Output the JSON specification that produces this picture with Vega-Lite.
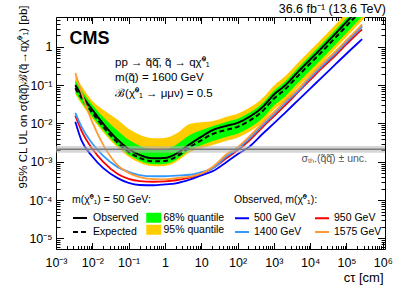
{
  "$schema": "https://vega.github.io/schema/vega-lite/v6.json",
  "width": 329,
  "height": 232,
  "autosize": "none",
  "padding": {"left": 56, "top": 17, "right": 17, "bottom": 40},
  "background": "white",
  "title": {"text": "36.6 fb⁻¹ (13.6 TeV)", "anchor": "end", "frame": "group", "fontSize": 12.5, "fontWeight": "normal", "color": "black", "offset": -10, "dx": 1},
  "config": {
    "font": "Liberation Sans",
    "view": {"stroke": "black", "strokeWidth": 1},
    "axis": {"domain": false, "grid": false, "tickColor": "black", "tickWidth": 1, "labelColor": "black", "titleColor": "black", "labelOverlap": false, "labelFlush": false, "labelBound": false}
  },
  "datasets": {
    "limits": [
      {"ctau": 0.0034, "obs": 0.1, "exp": 0.0835, "g_lo": 0.0656, "g_hi": 0.135, "o_lo": 0.0582, "o_hi": 0.172},
      {"ctau": 0.005, "obs": 0.0564, "exp": 0.0471, "g_lo": 0.037, "g_hi": 0.0763, "o_lo": 0.0328, "o_hi": 0.097},
      {"ctau": 0.01, "obs": 0.0228, "exp": 0.019, "g_lo": 0.01494, "g_hi": 0.0308, "o_lo": 0.01324, "o_hi": 0.0391},
      {"ctau": 0.02, "obs": 0.0098, "exp": 0.00818, "g_lo": 0.00663, "g_hi": 0.01472, "o_lo": 0.00589, "o_hi": 0.0229},
      {"ctau": 0.05, "obs": 0.00374, "exp": 0.00312, "g_lo": 0.00261, "g_hi": 0.00643, "o_lo": 0.00231, "o_hi": 0.01248},
      {"ctau": 0.1, "obs": 0.00218, "exp": 0.00182, "g_lo": 0.00152, "g_hi": 0.00375, "o_lo": 0.00135, "o_hi": 0.00728},
      {"ctau": 0.2, "obs": 0.00152, "exp": 0.00127, "g_lo": 0.00106, "g_hi": 0.00262, "o_lo": 0.00094, "o_hi": 0.00508},
      {"ctau": 0.5, "obs": 0.00123, "exp": 0.00103, "g_lo": 0.00086, "g_hi": 0.00212, "o_lo": 0.000762, "o_hi": 0.00412},
      {"ctau": 1, "obs": 0.00126, "exp": 0.00105, "g_lo": 0.000877, "g_hi": 0.00216, "o_lo": 0.000777, "o_hi": 0.0042},
      {"ctau": 2, "obs": 0.00161, "exp": 0.00134, "g_lo": 0.00112, "g_hi": 0.00276, "o_lo": 0.000992, "o_hi": 0.00536},
      {"ctau": 5, "obs": 0.00294, "exp": 0.00245, "g_lo": 0.00205, "g_hi": 0.00505, "o_lo": 0.00181, "o_hi": 0.0098},
      {"ctau": 10, "obs": 0.00449, "exp": 0.00364, "g_lo": 0.00269, "g_hi": 0.00666, "o_lo": 0.00225, "o_hi": 0.01077},
      {"ctau": 20, "obs": 0.00664, "exp": 0.00522, "g_lo": 0.00342, "g_hi": 0.00846, "o_lo": 0.00269, "o_hi": 0.01143},
      {"ctau": 50, "obs": 0.0087, "exp": 0.00684, "g_lo": 0.00449, "g_hi": 0.01108, "o_lo": 0.00352, "o_hi": 0.01498},
      {"ctau": 100, "obs": 0.0104, "exp": 0.00817, "g_lo": 0.00536, "g_hi": 0.01324, "o_lo": 0.00421, "o_hi": 0.01789},
      {"ctau": 200, "obs": 0.0145, "exp": 0.0114, "g_lo": 0.00748, "g_hi": 0.01847, "o_lo": 0.00587, "o_hi": 0.02497},
      {"ctau": 500, "obs": 0.0274, "exp": 0.02154, "g_lo": 0.01413, "g_hi": 0.0349, "o_lo": 0.01109, "o_hi": 0.0472},
      {"ctau": 1000, "obs": 0.0564, "exp": 0.0443, "g_lo": 0.02906, "g_hi": 0.0718, "o_lo": 0.02281, "o_hi": 0.097},
      {"ctau": 2000, "obs": 0.097, "exp": 0.0762, "g_lo": 0.05, "g_hi": 0.1234, "o_lo": 0.03924, "o_hi": 0.1669},
      {"ctau": 5000, "obs": 0.24, "exp": 0.1886, "g_lo": 0.1237, "g_hi": 0.3055, "o_lo": 0.0971, "o_hi": 0.413},
      {"ctau": 10000, "obs": 0.466, "exp": 0.3663, "g_lo": 0.2403, "g_hi": 0.5934, "o_lo": 0.1886, "o_hi": 0.802},
      {"ctau": 20000, "obs": 0.903, "exp": 0.7098, "g_lo": 0.4656, "g_hi": 1.15, "o_lo": 0.3655, "o_hi": 1.554},
      {"ctau": 50000, "obs": 2.23, "exp": 1.753, "g_lo": 1.15, "g_hi": 2.84, "o_lo": 0.903, "o_hi": 3.84},
      {"ctau": 100000, "obs": 4.46, "exp": 3.506, "g_lo": 2.3, "g_hi": 5.68, "o_lo": 1.806, "o_hi": 7.68},
      {"ctau": 200000, "obs": 8.9, "exp": 7.0, "g_lo": 4.59, "g_hi": 11.34, "o_lo": 3.6, "o_hi": 15.3},
      {"ctau": 400000, "obs": 17.8, "exp": 14.0, "g_lo": 9.18, "g_hi": 22.7, "o_lo": 7.2, "o_hi": 30.7}
    ],
    "masses": [
      {"ctau": 0.0034, "mass": "500 GeV", "ul": 0.0111},
      {"ctau": 0.005, "mass": "500 GeV", "ul": 0.00366},
      {"ctau": 0.01, "mass": "500 GeV", "ul": 0.00137},
      {"ctau": 0.02, "mass": "500 GeV", "ul": 0.00068},
      {"ctau": 0.05, "mass": "500 GeV", "ul": 0.000374},
      {"ctau": 0.1, "mass": "500 GeV", "ul": 0.00028},
      {"ctau": 0.2, "mass": "500 GeV", "ul": 0.000248},
      {"ctau": 0.5, "mass": "500 GeV", "ul": 0.000244},
      {"ctau": 1, "mass": "500 GeV", "ul": 0.000258},
      {"ctau": 2, "mass": "500 GeV", "ul": 0.000275},
      {"ctau": 5, "mass": "500 GeV", "ul": 0.000348},
      {"ctau": 10, "mass": "500 GeV", "ul": 0.000441},
      {"ctau": 20, "mass": "500 GeV", "ul": 0.000561},
      {"ctau": 50, "mass": "500 GeV", "ul": 0.000994},
      {"ctau": 100, "mass": "500 GeV", "ul": 0.00158},
      {"ctau": 200, "mass": "500 GeV", "ul": 0.00238},
      {"ctau": 500, "mass": "500 GeV", "ul": 0.00547},
      {"ctau": 1000, "mass": "500 GeV", "ul": 0.01},
      {"ctau": 2000, "mass": "500 GeV", "ul": 0.0187},
      {"ctau": 5000, "mass": "500 GeV", "ul": 0.0433},
      {"ctau": 10000, "mass": "500 GeV", "ul": 0.081},
      {"ctau": 20000, "mass": "500 GeV", "ul": 0.153},
      {"ctau": 50000, "mass": "500 GeV", "ul": 0.352},
      {"ctau": 100000, "mass": "500 GeV", "ul": 0.66},
      {"ctau": 200000, "mass": "500 GeV", "ul": 1.22},
      {"ctau": 270000, "mass": "500 GeV", "ul": 1.58},
      {"ctau": 0.0034, "mass": "950 GeV", "ul": 0.0159},
      {"ctau": 0.005, "mass": "950 GeV", "ul": 0.00652},
      {"ctau": 0.01, "mass": "950 GeV", "ul": 0.00218},
      {"ctau": 0.02, "mass": "950 GeV", "ul": 0.000988},
      {"ctau": 0.05, "mass": "950 GeV", "ul": 0.00048},
      {"ctau": 0.1, "mass": "950 GeV", "ul": 0.000359},
      {"ctau": 0.2, "mass": "950 GeV", "ul": 0.000314},
      {"ctau": 0.5, "mass": "950 GeV", "ul": 0.000301},
      {"ctau": 1, "mass": "950 GeV", "ul": 0.00031},
      {"ctau": 2, "mass": "950 GeV", "ul": 0.00033},
      {"ctau": 5, "mass": "950 GeV", "ul": 0.000393},
      {"ctau": 10, "mass": "950 GeV", "ul": 0.000497},
      {"ctau": 20, "mass": "950 GeV", "ul": 0.000672},
      {"ctau": 50, "mass": "950 GeV", "ul": 0.00125},
      {"ctau": 100, "mass": "950 GeV", "ul": 0.002},
      {"ctau": 200, "mass": "950 GeV", "ul": 0.00342},
      {"ctau": 500, "mass": "950 GeV", "ul": 0.0082},
      {"ctau": 1000, "mass": "950 GeV", "ul": 0.0154},
      {"ctau": 2000, "mass": "950 GeV", "ul": 0.0292},
      {"ctau": 5000, "mass": "950 GeV", "ul": 0.0705},
      {"ctau": 10000, "mass": "950 GeV", "ul": 0.137},
      {"ctau": 20000, "mass": "950 GeV", "ul": 0.266},
      {"ctau": 50000, "mass": "950 GeV", "ul": 0.603},
      {"ctau": 100000, "mass": "950 GeV", "ul": 1.17},
      {"ctau": 200000, "mass": "950 GeV", "ul": 2.23},
      {"ctau": 270000, "mass": "950 GeV", "ul": 2.85},
      {"ctau": 0.0034, "mass": "1400 GeV", "ul": 0.019},
      {"ctau": 0.005, "mass": "1400 GeV", "ul": 0.0084},
      {"ctau": 0.01, "mass": "1400 GeV", "ul": 0.00299},
      {"ctau": 0.02, "mass": "1400 GeV", "ul": 0.00142},
      {"ctau": 0.05, "mass": "1400 GeV", "ul": 0.000726},
      {"ctau": 0.1, "mass": "1400 GeV", "ul": 0.000547},
      {"ctau": 0.2, "mass": "1400 GeV", "ul": 0.000451},
      {"ctau": 0.5, "mass": "1400 GeV", "ul": 0.00042},
      {"ctau": 1, "mass": "1400 GeV", "ul": 0.00042},
      {"ctau": 2, "mass": "1400 GeV", "ul": 0.000438},
      {"ctau": 5, "mass": "1400 GeV", "ul": 0.000459},
      {"ctau": 10, "mass": "1400 GeV", "ul": 0.000535},
      {"ctau": 20, "mass": "1400 GeV", "ul": 0.000656},
      {"ctau": 50, "mass": "1400 GeV", "ul": 0.00139},
      {"ctau": 100, "mass": "1400 GeV", "ul": 0.00214},
      {"ctau": 200, "mass": "1400 GeV", "ul": 0.00386},
      {"ctau": 500, "mass": "1400 GeV", "ul": 0.00919},
      {"ctau": 1000, "mass": "1400 GeV", "ul": 0.0174},
      {"ctau": 2000, "mass": "1400 GeV", "ul": 0.0336},
      {"ctau": 5000, "mass": "1400 GeV", "ul": 0.0749},
      {"ctau": 10000, "mass": "1400 GeV", "ul": 0.154},
      {"ctau": 20000, "mass": "1400 GeV", "ul": 0.299},
      {"ctau": 50000, "mass": "1400 GeV", "ul": 0.68},
      {"ctau": 100000, "mass": "1400 GeV", "ul": 1.33},
      {"ctau": 200000, "mass": "1400 GeV", "ul": 2.55},
      {"ctau": 270000, "mass": "1400 GeV", "ul": 3.4},
      {"ctau": 0.0034, "mass": "1575 GeV", "ul": 0.208},
      {"ctau": 0.005, "mass": "1575 GeV", "ul": 0.0656},
      {"ctau": 0.01, "mass": "1575 GeV", "ul": 0.0108},
      {"ctau": 0.02, "mass": "1575 GeV", "ul": 0.00277},
      {"ctau": 0.05, "mass": "1575 GeV", "ul": 0.00081},
      {"ctau": 0.1, "mass": "1575 GeV", "ul": 0.000515},
      {"ctau": 0.2, "mass": "1575 GeV", "ul": 0.0004},
      {"ctau": 0.5, "mass": "1575 GeV", "ul": 0.000351},
      {"ctau": 1, "mass": "1575 GeV", "ul": 0.000348},
      {"ctau": 2, "mass": "1575 GeV", "ul": 0.000374},
      {"ctau": 5, "mass": "1575 GeV", "ul": 0.000412},
      {"ctau": 10, "mass": "1575 GeV", "ul": 0.000489},
      {"ctau": 20, "mass": "1575 GeV", "ul": 0.000718},
      {"ctau": 50, "mass": "1575 GeV", "ul": 0.00157},
      {"ctau": 100, "mass": "1575 GeV", "ul": 0.00241},
      {"ctau": 200, "mass": "1575 GeV", "ul": 0.00435},
      {"ctau": 500, "mass": "1575 GeV", "ul": 0.0104},
      {"ctau": 1000, "mass": "1575 GeV", "ul": 0.0196},
      {"ctau": 2000, "mass": "1575 GeV", "ul": 0.0379},
      {"ctau": 5000, "mass": "1575 GeV", "ul": 0.0845},
      {"ctau": 10000, "mass": "1575 GeV", "ul": 0.174},
      {"ctau": 20000, "mass": "1575 GeV", "ul": 0.338},
      {"ctau": 50000, "mass": "1575 GeV", "ul": 0.767},
      {"ctau": 100000, "mass": "1575 GeV", "ul": 1.5},
      {"ctau": 200000, "mass": "1575 GeV", "ul": 2.87},
      {"ctau": 270000, "mass": "1575 GeV", "ul": 3.83}
    ],
    "theory": [{"sigma": 0.00211, "lo": 0.00171, "hi": 0.0026}]
  },
  "resolve": {"axis": {"x": "independent", "y": "independent"}},
  "layer": [
    {
      "data": {"name": "limits"},
      "mark": {"type": "area", "interpolate": "monotone", "clip": true, "opacity": 1},
      "encoding": {
        "x": {"field": "ctau", "type": "quantitative", "scale": {"type": "log", "domain": [0.001, 1150000], "nice": false},
          "axis": {"orient": "bottom",
            "values": [0.001,0.002,0.003,0.004,0.005,0.006,0.007,0.008,0.009,0.01,0.02,0.03,0.04,0.05,0.06,0.07,0.08,0.09,0.1,0.2,0.3,0.4,0.5,0.6,0.7,0.8,0.9,1,2,3,4,5,6,7,8,9,10,20,30,40,50,60,70,80,90,100,200,300,400,500,600,700,800,900,1000,2000,3000,4000,5000,6000,7000,8000,9000,10000,20000,30000,40000,50000,60000,70000,80000,90000,100000,200000,300000,400000,500000,600000,700000,800000,900000,1000000],
            "tickSize": {"condition": {"test": "abs(log(datum.value)/LN10 - round(log(datum.value)/LN10)) < 0.001", "value": -6.5}, "value": -3.5},
            "labelExpr": "abs(log(datum.value)/LN10 - round(log(datum.value)/LN10)) > 0.001 ? '' : (round(log(datum.value)/LN10) == 0 ? '1' : (round(log(datum.value)/LN10) == 1 ? '10' : '10' + (round(log(datum.value)/LN10) < 0 ? '⁻' : '') + ['⁰','¹','²','³','⁴','⁵','⁶','⁷','⁸','⁹'][abs(round(log(datum.value)/LN10))]))",
            "labelPadding": 13.5, "labelBaseline": "top", "labelFontSize": 12.5,
            "title": "cτ [cm]", "titleX": 327, "titleY": 32, "titleAlign": "right", "titleBaseline": "alphabetic", "titleFontSize": 13, "titleFontWeight": "normal"}},
        "y": {"field": "o_lo", "type": "quantitative", "scale": {"type": "log", "domain": [0.0000053, 6], "nice": false},
          "axis": {"orient": "left",
            "values": [0.000006,0.000007,0.000008,0.000009,0.00001,0.00002,0.00003,0.00004,0.00005,0.00006,0.00007,0.00008,0.00009,0.0001,0.0002,0.0003,0.0004,0.0005,0.0006,0.0007,0.0008,0.0009,0.001,0.002,0.003,0.004,0.005,0.006,0.007,0.008,0.009,0.01,0.02,0.03,0.04,0.05,0.06,0.07,0.08,0.09,0.1,0.2,0.3,0.4,0.5,0.6,0.7,0.8,0.9,1,2,3,4,5],
            "tickSize": {"condition": {"test": "abs(log(datum.value)/LN10 - round(log(datum.value)/LN10)) < 0.001", "value": -7.5}, "value": -4},
            "labelExpr": "abs(log(datum.value)/LN10 - round(log(datum.value)/LN10)) > 0.001 ? '' : (round(log(datum.value)/LN10) == 0 ? '1' : (round(log(datum.value)/LN10) == 1 ? '10' : '10' + (round(log(datum.value)/LN10) < 0 ? '⁻' : '') + ['⁰','¹','²','³','⁴','⁵','⁶','⁷','⁸','⁹'][abs(round(log(datum.value)/LN10))]))",
            "labelPadding": 11.5, "labelBaseline": "middle", "labelFontSize": 12.5,
            "title": "95% CL UL on σ(q̃q̃̄)ℬ(q̃→qχ̃⁰₁) [pb]", "titleX": -30, "titleY": -12, "titleAngle": -90, "titleAlign": "right", "titleBaseline": "alphabetic", "titleFontSize": 11.5, "titleFontWeight": "normal"}},
        "y2": {"field": "o_hi"},
        "fill": {"datum": "95% quantile", "scale": {"domain": ["68% quantile", "95% quantile"], "range": ["#00ff00", "#ffcc00"]},
          "legend": {"orient": "none", "legendX": 92.5, "legendY": 195.5, "title": null, "symbolType": "M-1.5,-1H1.5V1H-1.5Z", "symbolSize": 100, "symbolStrokeWidth": 0, "symbolOpacity": 1, "labelFontSize": 10.5, "labelColor": "black", "labelOffset": 4.5, "rowPadding": 1, "padding": 0}}
      }
    },
    {
      "data": {"name": "limits"},
      "mark": {"type": "area", "interpolate": "monotone", "clip": true, "opacity": 1},
      "encoding": {
        "x": {"field": "ctau", "type": "quantitative", "scale": {"type": "log", "domain": [0.001, 1150000], "nice": false},
          "axis": {"orient": "top", "labels": false, "title": null,
            "values": [0.001,0.002,0.003,0.004,0.005,0.006,0.007,0.008,0.009,0.01,0.02,0.03,0.04,0.05,0.06,0.07,0.08,0.09,0.1,0.2,0.3,0.4,0.5,0.6,0.7,0.8,0.9,1,2,3,4,5,6,7,8,9,10,20,30,40,50,60,70,80,90,100,200,300,400,500,600,700,800,900,1000,2000,3000,4000,5000,6000,7000,8000,9000,10000,20000,30000,40000,50000,60000,70000,80000,90000,100000,200000,300000,400000,500000,600000,700000,800000,900000,1000000],
            "tickSize": {"condition": {"test": "abs(log(datum.value)/LN10 - round(log(datum.value)/LN10)) < 0.001", "value": -6.5}, "value": -3.5}}},
        "y": {"field": "g_lo", "type": "quantitative", "scale": {"type": "log", "domain": [0.0000053, 6], "nice": false},
          "axis": {"orient": "right", "labels": false, "title": null,
            "values": [0.000006,0.000007,0.000008,0.000009,0.00001,0.00002,0.00003,0.00004,0.00005,0.00006,0.00007,0.00008,0.00009,0.0001,0.0002,0.0003,0.0004,0.0005,0.0006,0.0007,0.0008,0.0009,0.001,0.002,0.003,0.004,0.005,0.006,0.007,0.008,0.009,0.01,0.02,0.03,0.04,0.05,0.06,0.07,0.08,0.09,0.1,0.2,0.3,0.4,0.5,0.6,0.7,0.8,0.9,1,2,3,4,5],
            "tickSize": {"condition": {"test": "abs(log(datum.value)/LN10 - round(log(datum.value)/LN10)) < 0.001", "value": -7.5}, "value": -4}}},
        "y2": {"field": "g_hi"},
        "fill": {"datum": "68% quantile"}
      }
    },
    {
      "data": {"name": "limits"},
      "mark": {"type": "line", "interpolate": "monotone", "clip": true, "color": "black", "strokeWidth": 2},
      "encoding": {
        "x": {"field": "ctau", "type": "quantitative", "scale": {"type": "log", "domain": [0.001, 1150000], "nice": false}, "axis": null},
        "y": {"field": "exp", "type": "quantitative", "scale": {"type": "log", "domain": [0.0000053, 6], "nice": false}, "axis": null},
        "strokeDash": {"datum": "Expected", "scale": {"domain": ["Observed", "Expected"], "range": [[1, 0], [5, 3]]},
          "legend": {"orient": "none", "legendX": 16, "legendY": 178, "title": "m(χ̃⁰₁) = 50 GeV:", "titleFontSize": 10.5, "titleFontWeight": "normal", "titleColor": "black", "titlePadding": 4.5, "symbolType": "stroke", "symbolSize": 196, "symbolStrokeWidth": 2, "symbolStrokeColor": "black", "labelFontSize": 10.5, "labelColor": "black", "labelOffset": 5, "rowPadding": -3, "padding": 0}}
      }
    },
    {
      "data": {"name": "limits"},
      "mark": {"type": "line", "interpolate": "monotone", "clip": true, "color": "black", "strokeWidth": 2},
      "encoding": {
        "x": {"field": "ctau", "type": "quantitative", "scale": {"type": "log", "domain": [0.001, 1150000], "nice": false}, "axis": null},
        "y": {"field": "obs", "type": "quantitative", "scale": {"type": "log", "domain": [0.0000053, 6], "nice": false}, "axis": null},
        "strokeDash": {"datum": "Observed"}
      }
    },
    {
      "data": {"name": "masses"},
      "mark": {"type": "line", "interpolate": "monotone", "clip": true, "strokeWidth": 1.8},
      "encoding": {
        "x": {"field": "ctau", "type": "quantitative", "scale": {"type": "log", "domain": [0.001, 1150000], "nice": false}, "axis": null},
        "y": {"field": "ul", "type": "quantitative", "scale": {"type": "log", "domain": [0.0000053, 6], "nice": false}, "axis": null},
        "color": {"field": "mass", "type": "nominal", "sort": null,
          "scale": {"domain": ["500 GeV", "1400 GeV", "950 GeV", "1575 GeV"], "range": ["#0000ff", "#3399ff", "#ff0000", "#ff9933"]},
          "legend": {"orient": "none", "legendX": 178, "legendY": 178, "title": "Observed, m(χ̃⁰₁):", "titleFontSize": 10.5, "titleFontWeight": "normal", "titleColor": "black", "titlePadding": 4.5, "columns": 2, "columnPadding": 9, "symbolType": "stroke", "symbolSize": 196, "symbolStrokeWidth": 2, "labelFontSize": 10.5, "labelColor": "black", "labelOffset": 4, "rowPadding": -3, "padding": 0}}
      }
    },
    {
      "data": {"name": "theory"},
      "mark": {"type": "rect", "color": "#b4b4b4", "opacity": 0.55},
      "encoding": {
        "y": {"field": "lo", "type": "quantitative", "scale": {"type": "log", "domain": [0.0000053, 6], "nice": false}, "axis": null},
        "y2": {"field": "hi"}
      }
    },
    {
      "data": {"name": "theory"},
      "mark": {"type": "rule", "color": "#7a7a7a", "strokeWidth": 1.5},
      "encoding": {
        "y": {"field": "sigma", "type": "quantitative", "scale": {"type": "log", "domain": [0.0000053, 6], "nice": false}, "axis": null}
      }
    },
    {
      "data": {"values": [{}]},
      "mark": {"type": "text", "align": "left", "baseline": "alphabetic", "fontSize": 18, "fontWeight": "bold", "color": "black"},
      "encoding": {
        "x": {"datum": 0.00234, "type": "quantitative", "scale": {"type": "log", "domain": [0.001, 1150000], "nice": false}, "axis": null},
        "y": {"datum": 1.15, "type": "quantitative", "scale": {"type": "log", "domain": [0.0000053, 6], "nice": false}, "axis": null},
        "text": {"value": "CMS"}
      }
    },
    {
      "data": {"values": [{}]},
      "mark": {"type": "text", "align": "left", "baseline": "alphabetic", "fontSize": 11.5, "color": "black"},
      "encoding": {
        "x": {"datum": 0.0423, "type": "quantitative", "scale": {"type": "log", "domain": [0.001, 1150000], "nice": false}, "axis": null},
        "y": {"datum": 0.324, "type": "quantitative", "scale": {"type": "log", "domain": [0.0000053, 6], "nice": false}, "axis": null},
        "text": {"value": "pp → q̃q̃̄, q̃ → qχ̃⁰₁"}
      }
    },
    {
      "data": {"values": [{}]},
      "mark": {"type": "text", "align": "left", "baseline": "alphabetic", "fontSize": 11.5, "color": "black"},
      "encoding": {
        "x": {"datum": 0.0423, "type": "quantitative", "scale": {"type": "log", "domain": [0.001, 1150000], "nice": false}, "axis": null},
        "y": {"datum": 0.131, "type": "quantitative", "scale": {"type": "log", "domain": [0.0000053, 6], "nice": false}, "axis": null},
        "text": {"value": "m(q̃) = 1600 GeV"}
      }
    },
    {
      "data": {"values": [{}]},
      "mark": {"type": "text", "align": "left", "baseline": "alphabetic", "fontSize": 11.5, "color": "black"},
      "encoding": {
        "x": {"datum": 0.0423, "type": "quantitative", "scale": {"type": "log", "domain": [0.001, 1150000], "nice": false}, "axis": null},
        "y": {"datum": 0.05, "type": "quantitative", "scale": {"type": "log", "domain": [0.0000053, 6], "nice": false}, "axis": null},
        "text": {"value": "ℬ(χ̃⁰₁ → μμν) = 0.5"}
      }
    },
    {
      "data": {"values": [{}]},
      "mark": {"type": "text", "align": "right", "baseline": "alphabetic", "fontSize": 10.5, "color": "#555555"},
      "encoding": {
        "x": {"datum": 368000, "type": "quantitative", "scale": {"type": "log", "domain": [0.001, 1150000], "nice": false}, "axis": null},
        "y": {"datum": 0.00099, "type": "quantitative", "scale": {"type": "log", "domain": [0.0000053, 6], "nice": false}, "axis": null},
        "text": {"value": "σₜₕ.(q̃q̃̄) ± unc."}
      }
    }
  ]
}
